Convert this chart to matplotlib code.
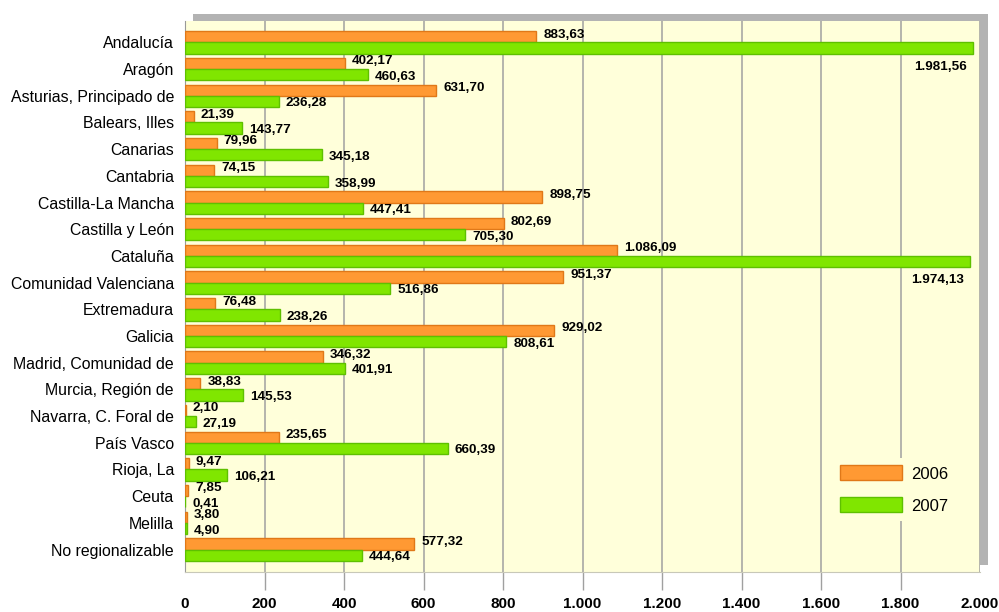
import matplotlib
matplotlib.use("Agg")
import matplotlib.pyplot as plt
from matplotlib.patches import Rectangle
import numpy as np

plt.rcParams['font.family'] = ['Liberation Sans', 'DejaVu Sans']

categories = ["Andalucía", "Aragón", "Asturias, Principado de", "Balears, Illes",
              "Canarias", "Cantabria", "Castilla-La Mancha", "Castilla y León",
              "Cataluña", "Comunidad Valenciana", "Extremadura", "Galicia",
              "Madrid, Comunidad de", "Murcia, Región de", "Navarra, C. Foral de",
              "País Vasco", "Rioja, La", "Ceuta", "Melilla", "No regionalizable"]
values_2006 = [883.63, 402.17, 631.70, 21.39, 79.96, 74.15, 898.75, 802.69,
               1086.09, 951.37, 76.48, 929.02, 346.32, 38.83, 2.10, 235.65,
               9.47, 7.85, 3.80, 577.32]
values_2007 = [1981.56, 460.63, 236.28, 143.77, 345.18, 358.99, 447.41, 705.30,
               1974.13, 516.86, 238.26, 808.61, 401.91, 145.53, 27.19, 660.39,
               106.21, 0.41, 4.90, 444.64]
series_labels = ["2006", "2007"]
xticks = [0, 200, 400, 600, 800, 1000, 1200, 1400, 1600, 1800, 2000]

BG = '#FFFFDA'
ORANGE = '#FF9933'
ORANGE_E = '#E07818'
GREEN = '#80E600'
GREEN_E = '#5EC000'
GRID = '#A0A0A0'

def fmt(v):
    s = f"{v:,.2f}"
    return s.replace(",", "X").replace(".", ",").replace("X", ".")

W, H = 999, 612
fig = plt.figure(figsize=(W / 100, H / 100), dpi=100)
fig.patch.set_facecolor('white')
L, R, T, B = 185, 980, 21, 572
ax = fig.add_axes([L / W, 1 - B / H, (R - L) / W, (B - T) / H])
ax.set_facecolor(BG)

# shadow
shadow = Rectangle(((L + 7.5) / W, 1 - (B - 7) / H), (R - L) / W, (B - T) / H,
                   transform=fig.transFigure, facecolor='#B3B3B3',
                   edgecolor='none', zorder=-1)
fig.patches.append(shadow)

y = np.arange(len(categories))
h = 0.42
ax.barh(y - h / 2, values_2006, height=h, color=ORANGE, edgecolor=ORANGE_E,
        linewidth=1, label=series_labels[0], zorder=3)
ax.barh(y + h / 2, values_2007, height=h, color=GREEN, edgecolor=GREEN_E,
        linewidth=1, label=series_labels[1], zorder=3)

ax.set_xlim(0, 2000)
ax.set_ylim(19.84, -0.80)

for vals, off, dy in ((values_2006, -h / 2, 1.5), (values_2007, h / 2, -1.5)):
    for i, v in enumerate(vals):
        if v > 1800:
            ax.annotate(fmt(v), (v, i + off + h / 2), xytext=(-4, -5),
                        textcoords='offset points', ha='right', va='top',
                        fontsize=9.7, fontweight='bold', zorder=5)
        else:
            ax.annotate(fmt(v), (v, i + off), xytext=(5, dy),
                        textcoords='offset points', ha='left', va='center',
                        fontsize=9.7, fontweight='bold', zorder=5)

ax.set_yticks(y)
ax.set_yticklabels(categories, fontsize=11.4)
ax.tick_params(axis='y', length=0, pad=8)

ax.set_xticks(xticks)
ax.set_xticklabels([fmt(t)[:-3] for t in xticks], fontsize=11, fontweight='bold')
ax.tick_params(axis='x', length=13, width=1, color=GRID, direction='out', pad=5)
xt = ax.xaxis.get_major_ticks()
xt[0].tick1line.set_visible(False)
xt[-1].tick1line.set_visible(False)

ax.grid(axis='x', color=GRID, linewidth=1.1, zorder=1)
ax.set_axisbelow(True)

for s in ('top', 'right'):
    ax.spines[s].set_visible(False)
ax.spines['left'].set_color('#999999')
ax.spines['bottom'].set_color('#C8C8B8')

ax.legend(loc='upper left', bbox_to_anchor=(832 / W, 1 - 458 / H),
          bbox_transform=fig.transFigure, fontsize=12,
          handlelength=3.72, handleheight=1.0, handletextpad=0.6,
          labelspacing=0.95, borderpad=0.45, borderaxespad=0,
          frameon=True, fancybox=False, facecolor=BG, edgecolor='none',
          framealpha=1)

fig.savefig('out.png', dpi=100, facecolor='white')
